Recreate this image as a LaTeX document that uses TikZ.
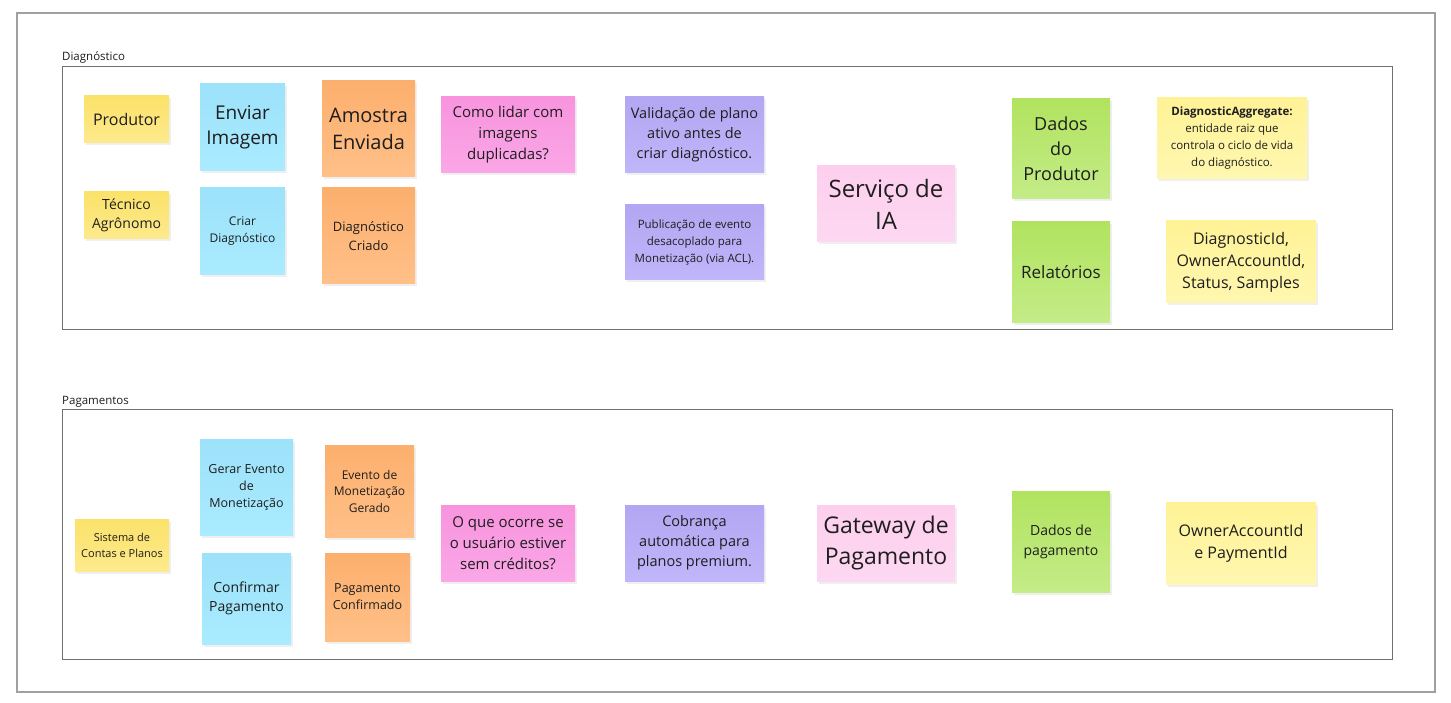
\documentclass[tikz,border=0pt]{standalone}
\usepackage{fontspec}
\setmainfont{Open Sans}
\usetikzlibrary{shadows}
\definecolor{txt}{HTML}{1E1E1E}
\definecolor{outerframe}{HTML}{A0A0A0}
\definecolor{innerframe}{HTML}{707070}
\definecolor{yT}{HTML}{FBE26A}\definecolor{yB}{HTML}{FDEA8C}
\definecolor{bT}{HTML}{9CE2FA}\definecolor{bB}{HTML}{AAEBFF}
\definecolor{oT}{HTML}{FCAF6D}\definecolor{oB}{HTML}{FFC088}
\definecolor{pT}{HTML}{F894DE}\definecolor{pB}{HTML}{FAA7E7}
\definecolor{vT}{HTML}{B3A6F2}\definecolor{vB}{HTML}{C0B6FA}
\definecolor{lpT}{HTML}{FDCFEE}\definecolor{lpB}{HTML}{FDD8F2}
\definecolor{gT}{HTML}{B1E35F}\definecolor{gB}{HTML}{C4EC88}
\definecolor{lyT}{HTML}{FFF296}\definecolor{lyB}{HTML}{FFF7B0}
\newcommand\fsz[2]{\fontsize{#1}{#2}\selectfont}
\tikzset{
  note/.style={rectangle, inner sep=0pt, align=center, text=txt,
    drop shadow={opacity=0.12, shadow xshift=1.5pt, shadow yshift=-2.5pt}},
  ynote/.style={note, top color=yT, bottom color=yB},
  bnote/.style={note, top color=bT, bottom color=bB},
  onote/.style={note, top color=oT, bottom color=oB},
  pnote/.style={note, top color=pT, bottom color=pB},
  vnote/.style={note, top color=vT, bottom color=vB},
  lpnote/.style={note, top color=lpT, bottom color=lpB},
  gnote/.style={note, top color=gT, bottom color=gB},
  lynote/.style={note, top color=lyT, bottom color=lyB},
  frame/.style={draw=innerframe, line width=1pt},
  framelabel/.style={anchor=base west, inner sep=0pt, text=txt, font=\fsz{11.5}{14}},
}
\begin{document}
\begin{tikzpicture}[x=1pt,y=-1pt]
\useasboundingbox (0,0) rectangle (1451,703);
\fill[white] (0,0) rectangle (1451,703);
\draw[draw=outerframe, line width=1.2pt] (17,13) rectangle (1435,692);
\draw[frame] (62,67) rectangle (1392,329);
\draw[frame] (62,409) rectangle (1392,659);
\node[framelabel] (lbl1) at (62,61) {Diagnóstico};
\node[framelabel] (lbl2) at (62,404) {Pagamentos};

% Diagnostico
\node[ynote, minimum width=85, minimum height=47, font=\fsz{16}{22}] (prod) at (126.5,119.5) {Produtor};
\node[ynote, minimum width=85, minimum height=47, font=\fsz{14}{19}] (tec) at (126.5,215.5) {Técnico\\Agrônomo};
\node[bnote, minimum width=85, minimum height=87, font=\fsz{19}{25}] (env) at (242.5,127.5) {Enviar\\Imagem};
\node[bnote, minimum width=85, minimum height=87, font=\fsz{12}{17}] (cri) at (242.5,231.5) {Criar\\Diagnóstico};
\node[onote, minimum width=93, minimum height=96, font=\fsz{20}{27}] (amo) at (368.5,129) {Amostra\\Enviada};
\node[onote, minimum width=93, minimum height=96, font=\fsz{13}{19}] (dcr) at (368.5,236) {Diagnóstico\\Criado};
\node[pnote, minimum width=134, minimum height=76, font=\fsz{15}{21}] (como) at (508,135) {Como lidar com\\imagens\\duplicadas?};
\node[vnote, minimum width=139, minimum height=76, font=\fsz{14.5}{20}] (val) at (694.5,135) {Validação de plano\\ativo antes de\\criar diagnóstico.};
\node[vnote, minimum width=139, minimum height=75, font=\fsz{11.5}{17}] (pub) at (694.5,242.5) {Publicação de evento\\desacoplado para\\Monetização (via ACL).};
\node[lpnote, minimum width=138, minimum height=76, font=\fsz{24}{32}] (ia) at (886,204) {Serviço de\\IA};
\node[gnote, minimum width=98, minimum height=100, font=\fsz{18}{25}] (dp) at (1061,149) {Dados\\do\\Produtor};
\node[gnote, minimum width=98, minimum height=101, font=\fsz{17}{23}] (rel) at (1061,272.5) {Relatórios};
\node[lynote, minimum width=150, minimum height=81, font=\fsz{11.5}{17}] (agg) at (1232,138.5) {\textbf{DiagnosticAggregate:}\\entidade raiz que\\controla o ciclo de vida\\do diagnóstico.};
\node[lynote, minimum width=150, minimum height=82, font=\fsz{16}{22}] (ids) at (1241,262) {DiagnosticId,\\OwnerAccountId,\\Status, Samples};

% Pagamentos
\node[ynote, minimum width=94, minimum height=52, font=\fsz{11}{16}] (sis) at (122,545) {Sistema de\\Contas e Planos};
\node[bnote, minimum width=93, minimum height=96, font=\fsz{12.5}{17}] (ger) at (246.5,487) {Gerar Evento\\de\\Monetização};
\node[bnote, minimum width=89, minimum height=91, font=\fsz{14}{19}] (conf) at (246.5,598.5) {Confirmar\\Pagamento};
\node[onote, minimum width=89, minimum height=92, font=\fsz{12}{16.5}] (evg) at (369.5,491) {Evento de\\Monetização\\Gerado};
\node[onote, minimum width=85, minimum height=88, font=\fsz{12.5}{17}] (pag) at (367.5,597) {Pagamento\\Confirmado};
\node[pnote, minimum width=134, minimum height=76, font=\fsz{15}{21}] (oque) at (508,543) {O que ocorre se\\o usuário estiver\\sem créditos?};
\node[vnote, minimum width=139, minimum height=76, font=\fsz{14.5}{20}] (cob) at (694.5,543) {Cobrança\\automática para\\planos premium.};
\node[lpnote, minimum width=138, minimum height=76, font=\fsz{23}{31}] (gw) at (886,543) {Gateway de\\Pagamento};
\node[gnote, minimum width=98, minimum height=101, font=\fsz{14}{20}] (dpg) at (1061,541.5) {Dados de\\pagamento};
\node[lynote, minimum width=150, minimum height=82, font=\fsz{16}{22}] (own) at (1241,543) {OwnerAccountId\\e PaymentId};
\end{tikzpicture}
\end{document}
